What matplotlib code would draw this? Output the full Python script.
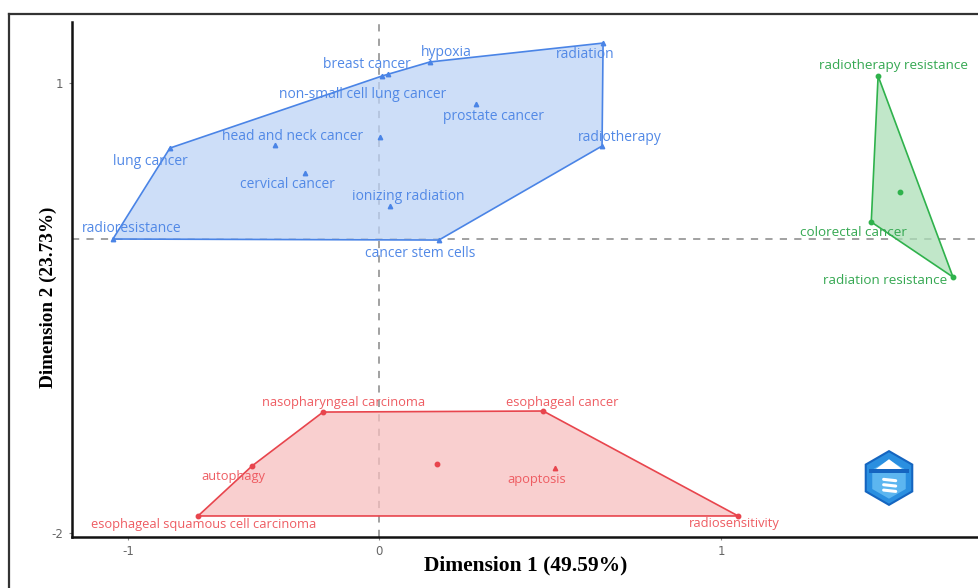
import numpy as np
import matplotlib
matplotlib.use("Agg")
import matplotlib.pyplot as plt
from matplotlib.patches import Polygon, RegularPolygon
from matplotlib.lines import Line2D

# ---- keyword coordinates per cluster (Dimension 1, Dimension 2) ----
blue_words = ["radioresistance", "lung cancer", "head and neck cancer", "cervical cancer",
              "breast cancer", "non-small cell lung cancer", "hypoxia", "radiation",
              "prostate cancer", "radiotherapy", "ionizing radiation", "cancer stem cells"]
blue_x = [-1.060, -0.833, -0.414, -0.295, 0.009, 0.026, 0.149, 0.655, 0.284, 0.652, 0.032, 0.175]
blue_y = [0.000, 0.583, 0.603, 0.423, 1.045, 1.058, 1.135, 1.256, 0.865, 0.596, 0.212, -0.007]
blue_hull = [0, 1, 4, 6, 7, 9, 11]
blue_centroid = (0.003, 0.654)

green_words = ["radiotherapy resistance", "colorectal cancer", "radiation resistance"]
green_x = [1.459, 1.439, 1.678]
green_y = [1.045, 0.109, -0.259]
green_hull = [0, 1, 2]
green_centroid = (1.524, 0.301)

red_words = ["nasopharyngeal carcinoma", "autophagy", "esophageal squamous cell carcinoma",
             "esophageal cancer", "apoptosis", "radiosensitivity"]
red_x = [-0.223, -0.506, -0.721, 0.480, 0.515, 1.050]
red_y = [-1.177, -1.544, -1.884, -1.170, -1.558, -1.884]
red_hull = [2, 1, 0, 3, 5]
red_centroid = (0.170, -1.531)

# label offsets in pixels (dx, dy) relative to each point
blue_offsets = [(19, 11), (-20, -13), (17, 8), (-18, -11), (-15, 11), (-25, -21),
                (16, 9), (-18, -11), (17, -12), (18, 9), (18, 9), (-19, -13)]
green_offsets = [(15, 10), (-18, -10), (-68, -3)]
red_offsets = [(21, 10), (-19, -11), (6, -9), (19, 9), (-19, -11), (-4, -8)]

x_ticks = [-1, 0, 1]
y_ticks = [-2, 1]
x_title = "Dimension 1 (49.59%)"
y_title = "Dimension 2 (23.73%)"


def piecewise(neg, pos):
    def fwd(v):
        v = np.asarray(v, dtype=float)
        return np.where(v < 0, v * neg, v * pos)

    def inv(u):
        u = np.asarray(u, dtype=float)
        return np.where(u < 0, u / neg, u / pos)
    return fwd, inv


W, H = 979, 588
fig = plt.figure(figsize=(W / 100, H / 100), dpi=100)
fig.patch.set_facecolor("white")

ax = fig.add_axes([72 / W, 1 - 537 / H, 1 - 72 / W, (537 - 22) / H])
ax.set_xscale("function", functions=piecewise(1.0, 342 / 251))
ax.set_yscale("function", functions=piecewise(1.0, 156 / 147))
ax.set_xlim(-1.223, 1.754)
ax.set_ylim(-2.027, 1.391)

# reference lines through the origin
ax.axvline(0, color="#9a9a9a", lw=1.3, ls=(0, (4, 4)), zorder=1)
ax.axhline(0, color="#9a9a9a", lw=1.3, ls=(0, (4, 4)), zorder=1)

clusters = [
    (blue_words, blue_x, blue_y, blue_hull, blue_centroid, blue_offsets,
     "#4a84e6", "#bdd3f6", "#5289e6", "^", 10.0),
    (green_words, green_x, green_y, green_hull, green_centroid, green_offsets,
     "#2fb24c", "#acdfb8", "#35a852", "o", 9.7),
    (red_words, red_x, red_y, red_hull, red_centroid, red_offsets,
     "#e8454d", "#f7c0c0", "#ee5c62", "o", 9.3),
]
red_markers = ["o", "o", "o", "o", "^", "o"]

for words, xs, ys, hull, cen, offs, edge, fill, tcol, mk, fs in clusters:
    pts = np.column_stack([np.take(xs, hull), np.take(ys, hull)])
    ax.add_patch(Polygon(pts, closed=True, facecolor=fill, edgecolor="none",
                         alpha=0.75, zorder=2))
    ax.add_patch(Polygon(pts, closed=True, facecolor="none", edgecolor=edge,
                         lw=1.2, zorder=3))
    markers = red_markers if words is red_words else [mk] * len(words)
    for i, w in enumerate(words):
        ax.plot(xs[i], ys[i], marker=markers[i], ms=3.2, color=edge,
                ls="none", zorder=4)
        ax.annotate(w, (xs[i], ys[i]), xytext=offs[i], textcoords="offset pixels",
                    ha="center", va="center", fontsize=fs, color=tcol,
                    family="Open Sans", zorder=5)
    ax.plot(cen[0], cen[1], marker=mk, ms=3.2, color=edge, ls="none", zorder=4)

for s in ["top", "right"]:
    ax.spines[s].set_visible(False)
for s in ["left", "bottom"]:
    ax.spines[s].set_color("#111111")
    ax.spines[s].set_linewidth(1.8)

ax.set_xticks(x_ticks)
ax.set_xticklabels([str(t) for t in x_ticks])
ax.set_yticks(y_ticks)
ax.set_yticklabels([str(t) for t in y_ticks])
ax.tick_params(axis="both", length=2, width=0.8, color="#888888",
               labelcolor="#666666", labelsize=8.5, pad=4)
ax.set_facecolor("white")

fig.text(526 / W, 1 - 565 / H, x_title, ha="center", va="center",
         fontsize=15.5, fontweight="bold", family="Liberation Serif")
fig.text(48 / W, 1 - 297 / H, y_title, ha="center", va="center", rotation=90,
         fontsize=13.8, fontweight="bold", family="Liberation Serif")

# badge in the lower right corner
lax = fig.add_axes([858 / W, 1 - 507 / H, 62 / W, 58 / H])
lax.set_xlim(-1.15, 1.15)
lax.set_ylim(-1.08, 1.08)
lax.set_aspect("equal")
lax.axis("off")
lax.add_patch(RegularPolygon((0, 0), 6, radius=1.0, orientation=0,
                             facecolor="#2a8fe0", edgecolor="#1565c0", lw=1.5))
lax.add_patch(RegularPolygon((0, -0.05), 6, radius=0.72, orientation=0,
                             facecolor="#5cb6f0", edgecolor="none"))
lax.add_patch(Polygon([[-0.6, 0.25], [0.0, 0.7], [0.6, 0.25]], closed=True,
                      facecolor="white", edgecolor="none"))
lax.add_patch(Polygon([[-0.75, 0.2], [0.75, 0.2], [0.75, 0.32], [-0.75, 0.32]],
                      closed=True, facecolor="#1565c0", edgecolor="none"))
for yy in [-0.05, -0.25, -0.45]:
    lax.plot([-0.2, 0.25], [yy, yy - 0.05], color="white", lw=2.2,
             solid_capstyle="round")

# outer frame
fig.add_artist(Line2D([9 / W, 9 / W], [0, 1 - 14 / H], color="#333333", lw=1.6))
fig.add_artist(Line2D([9 / W, 1], [1 - 14 / H, 1 - 14 / H], color="#333333", lw=1.6))

fig.savefig("out.png", dpi=100)
